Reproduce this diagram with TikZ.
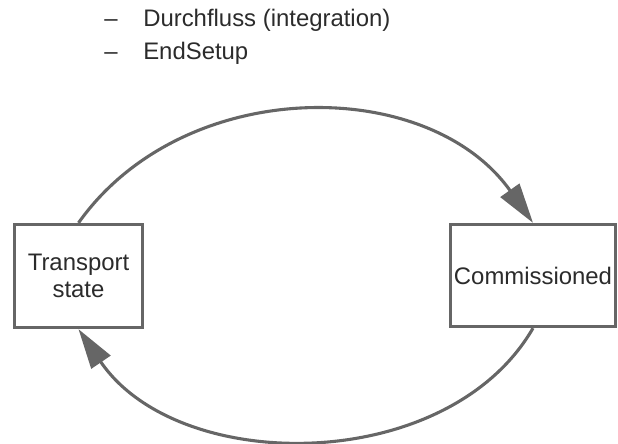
\documentclass[tikz,border=0pt]{standalone}
\usepackage{fontspec}
\setmainfont{Liberation Sans}
\usetikzlibrary{arrows.meta}
\definecolor{edgec}{HTML}{666666}
\definecolor{textc}{HTML}{2B2B2B}

\begin{document}
\begin{tikzpicture}[x=0.025cm,y=-0.025cm,
  font=\fontsize{17}{19.4}\selectfont,text=textc,
  state/.style={draw=edgec,line width=2.3pt,align=center,inner sep=0pt},
  flow/.style={draw=edgec,line width=2.2pt,-{Triangle[length=1cm,width=0.57cm]}},
  item/.style={anchor=base west,inner sep=0pt}]
\useasboundingbox (0,0) rectangle (618,443);
\node[item] (dash1) at (104,26.7) {–};
\node[item] (item1) at (143,26.7) {Durchfluss (integration)};
\node[item] (dash2) at (104,59.3) {–};
\node[item] (item2) at (143,59.3) {EndSetup};
\node[state,minimum width=3.2cm,minimum height=2.575cm] (ts) at (78.5,276) {Transport\\state};
\node[state,minimum width=4.125cm,minimum height=2.55cm] (cm) at (533,275.5) {Commissioned};
\draw[flow] (ts.north) .. controls +(105,-148) and +(-105,-148) .. (cm.north);
\draw[flow] (cm.south) .. controls +(-85,147) and +(100,147) .. (ts.south);
\end{tikzpicture}
\end{document}
